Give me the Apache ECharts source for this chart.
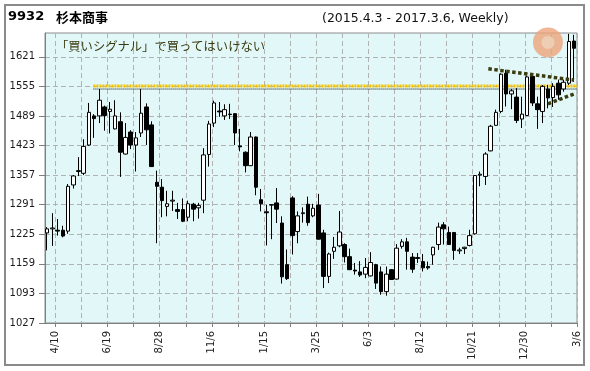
<!DOCTYPE html>
<html>
<head>
<meta charset="utf-8">
<script src="https://cdn.jsdelivr.net/npm/echarts@6/dist/echarts.min.js"></script>
<style>
html,body{margin:0;padding:0;background:#fff;}
#c{width:590px;height:371px;}
</style>
</head>
<body>
<div id="c"></div>
<script>
// ---- data (weekly candles, 2015-03-30 .. 2017-03-06) ----
const open  = [1228,1237,1234,1234,1232,1335,1365,1361,1424,1489,1489,1509,1499,1460,1476,1404,1453,1424,1451,1509,
               1469,1341,1330,1287,1299,1280,1280,1263,1292,1284,1301,1403,1473,1500,1489,1493,1494,1422,1408,1378,
               1442,1302,1275,1290,1295,1250,1157,1306,1231,1271,1292,1266,1290,1228,1131,1187,1199,1202,1175,1145,
               1141,1136,1132,1157,1141,1097,1146,1125,1198,1208,1174,1173,1164,1153,1179,1202,1246,1229,1229,1188,
               1193,1200,1226,1357,1354,1411,1468,1499,1584,1538,1531,1482,1490,1577,1516,1499,1549,1530,1562,1549,
               1562,1656];
const close = [1237,1239,1232,1221,1332,1355,1367,1421,1497,1483,1524,1490,1504,1489,1408,1441,1424,1440,1495,1458,
               1376,1332,1300,1293,1301,1276,1254,1293,1281,1289,1402,1471,1518,1498,1503,1492,1451,1420,1378,1442,
               1330,1293,1273,1291,1281,1130,1126,1222,1266,1273,1251,1283,1214,1131,1181,1196,1230,1175,1146,1143,
               1134,1151,1162,1116,1097,1136,1124,1194,1208,1187,1147,1171,1150,1150,1196,1241,1237,1202,1189,1190,
               1196,1222,1356,1359,1404,1466,1497,1582,1538,1545,1479,1493,1576,1518,1503,1555,1529,1555,1536,1564,
               1655,1640];
const low   = [1189,1199,1222,1218,1226,1327,1355,1357,1422,1440,1473,1456,1450,1459,1353,1403,1415,1365,1442,1424,
               1375,1205,1263,1265,1277,1259,1252,1254,1254,1260,1272,1376,1464,1487,1480,1482,1424,1410,1363,1377,
               1312,1276,1200,1214,1250,1115,1123,1180,1205,1251,1244,1263,1213,1105,1116,1170,1196,1162,1145,1135,
               1130,1127,1131,1103,1090,1088,1123,1124,1193,1146,1139,1161,1142,1146,1157,1190,1202,1201,1168,1181,
               1181,1198,1224,1332,1335,1410,1467,1495,1510,1504,1473,1462,1489,1511,1460,1473,1506,1509,1525,1543,
               1558,1565];
const high  = [1241,1272,1259,1244,1337,1357,1397,1437,1518,1493,1549,1512,1520,1524,1497,1473,1457,1453,1549,1517,
               1477,1367,1348,1322,1322,1295,1305,1300,1295,1295,1417,1478,1523,1520,1515,1516,1495,1460,1410,1453,
               1443,1326,1291,1292,1328,1265,1191,1310,1276,1285,1309,1293,1315,1235,1184,1219,1277,1205,1193,1161,
               1165,1172,1185,1159,1153,1153,1147,1203,1214,1217,1183,1183,1181,1164,1197,1251,1252,1242,1230,1195,
               1197,1235,1357,1365,1408,1469,1503,1584,1592,1549,1551,1532,1579,1581,1532,1558,1558,1562,1570,1570,
               1672,1670];

// x axis: days counted from Fri 2015-03-27; candles sit on Mondays
const firstCandleDay = 3;
const xTickDays  = [14,49,84,119,154,189,224,259,294,329,364,399,434,469,504,539,574,609,644,679,714];
const xLabelDays = [14,84,154,224,294,364,434,504,574,644,714];
const xLabels    = ['4/10','6/19','8/28','11/6','1/15','3/25','6/3','8/12','10/21','12/30','3/6'];
const yTicks     = [1027,1093,1159,1225,1291,1357,1423,1489,1555,1621];

// annotations
const resistYellow = [[65,1556],[714,1556]];
const resistBlack  = [[65,1549],[714,1549]];
const upperTrend   = [[595,1594],[710,1569]];
const lowerTrend   = [[675,1516],[710,1538]];
const sunMark      = [[675,1653]];

const candles = open.map((o,k)=>[firstCandleDay+7*k, o, close[k], low[k], high[k]]);

const chart = echarts.init(document.getElementById('c'), null, {renderer:'canvas'});
const gridColor = '#b2b2b2';
chart.setOption({
  animation:false,
  backgroundColor:'#ffffff',
  grid:{left:45, top:33, right:13, bottom:48, show:true, backgroundColor:'#e2f7f7', borderColor:'#8c8c8c', borderWidth:1},
  xAxis:{
    type:'value', min:0, max:714,
    axisLine:{show:true, lineStyle:{color:'#808080'}},
    axisTick:{show:true, customValues:xTickDays, length:4, lineStyle:{color:'#808080'}},
    axisLabel:{customValues:xLabelDays, rotate:90, margin:8, fontSize:10, fontFamily:'DejaVu Sans', color:'#222',
      formatter:(v)=>{const i=xLabelDays.indexOf(Math.round(v)); return i>=0?xLabels[i]:'';}},
    splitLine:{show:true, lineStyle:{color:gridColor, type:[5,3], width:1}}
  },
  yAxis:{
    type:'value', min:1027, max:1674,
    axisLine:{show:true, lineStyle:{color:'#808080'}},
    axisTick:{show:true, customValues:yTicks, length:6, lineStyle:{color:'#808080'}},
    axisLabel:{customValues:yTicks, margin:10, fontSize:10, fontFamily:'DejaVu Sans', color:'#1a1a1a',
      formatter:(v)=>String(Math.round(v))},
    splitLine:{show:true, lineStyle:{color:gridColor, type:[5,3], width:1}}
  },
  series:[
    {type:'line', data:resistYellow, symbol:'none', silent:true, z:3,
     lineStyle:{color:'#f2c200', width:3, type:[2,1]}},
    {type:'line', data:resistBlack, symbol:'none', silent:true, z:3,
     lineStyle:{color:'#000', width:1, type:[1,1]}},
    {type:'candlestick', data:candles, barWidth:4, z:4,
     encode:{x:0, y:[1,2,3,4]},
     itemStyle:{color:'#ffffff', color0:'#000000', borderColor:'#000000', borderColor0:'#000000', borderWidth:1}},
    {type:'line', data:upperTrend, symbol:'none', silent:true, z:5,
     lineStyle:{color:'#3b3b10', width:3.5, type:[3.5,2.5]}},
    {type:'line', data:lowerTrend, symbol:'none', silent:true, z:5,
     lineStyle:{color:'#3b3b10', width:3.5, type:[3.5,2.5]}},
    {type:'scatter', data:sunMark, symbol:'circle', symbolSize:30, silent:true, z:2,
     itemStyle:{color:'#eea47a'}},
    {type:'scatter', data:sunMark, symbol:'circle', symbolSize:13, silent:true, z:2,
     itemStyle:{color:'#efd3bd'}}
  ],
  graphic:[
    {type:'rect', shape:{x:5, y:5, width:579, height:360}, style:{fill:'none', stroke:'#8a8a8a', lineWidth:2}, silent:true},
    {type:'text', x:8, y:17, style:{text:'9932', font:'bold 13px "DejaVu Sans"', fill:'#000', verticalAlign:'middle'}},
    {type:'text', x:56, y:17, style:{text:'杉本商事', font:'bold 13px "Noto Sans CJK JP"', fill:'#000', verticalAlign:'middle'}},
    {type:'text', x:322, y:19, style:{text:'(2015.4.3 - 2017.3.6, Weekly)', font:'12.5px "DejaVu Sans"', fill:'#111', verticalAlign:'middle'}},
    {type:'text', x:56, y:46, z:10, style:{text:'「買いシグナル」で買ってはいけない', font:'12.3px "Noto Sans CJK JP"', fill:'#3a3a10', verticalAlign:'middle'}}
  ]
});
</script>
</body>
</html>
